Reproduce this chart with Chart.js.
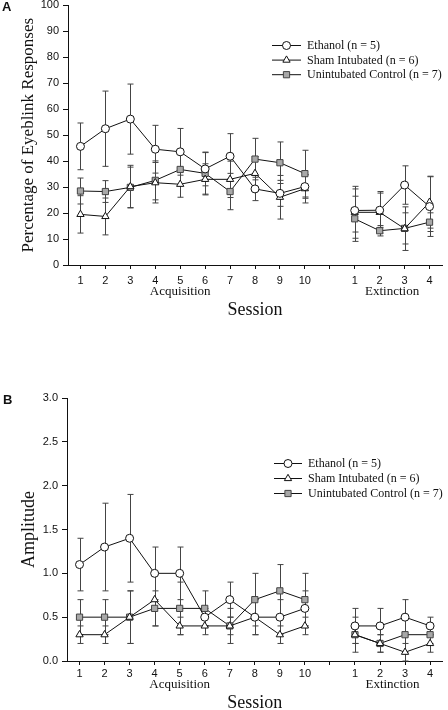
<!DOCTYPE html>
<html>
<head>
<meta charset="utf-8">
<title>Eyeblink Responses and Amplitude</title>
<script src="https://cdn.jsdelivr.net/npm/chart.js@4.4.0/dist/chart.umd.min.js"></script>
<style>
  html, body { margin: 0; padding: 0; background: #fff; overflow: hidden; }
  body { width: 448px; height: 710px; position: relative; }
  .panel { position: absolute; left: 0; width: 448px; }
  #panelA { top: 0; height: 340px; }
  #panelB { top: 355px; height: 370px; }
  .letter { position: absolute; font: bold 13px 'Liberation Sans', Arial, sans-serif; color: #111; }
</style>
</head>
<body>
<div class="panel" id="panelA"><canvas id="chartA"></canvas></div>
<div class="panel" id="panelB"><canvas id="chartB"></canvas></div>
<div class="letter" style="left:2px;top:-1px">A</div>
<div class="letter" style="left:3px;top:392px">B</div>
<script>
// Sessions: acquisition 1-10, then a gap, then extinction 1-4
const sessionPos = [1, 2, 3, 4, 5, 6, 7, 8, 9, 10, 12, 13, 14, 15];
const tickPos = [1, 2, 3, 4, 5, 6, 7, 8, 9, 10, 11, 12, 13, 14, 15];
const tickText = ['1', '2', '3', '4', '5', '6', '7', '8', '9', '10', '', '1', '2', '3', '4'];
const groupNames = ['Ethanol (n = 5)', 'Sham Intubated (n = 6)', 'Unintubated Control (n = 7)'];

// Panel A - percentage of eyeblink responses
const ethanolPct = [45.7, 52.5, 56.2, 44.6, 43.6, 37.0, 41.9, 29.3, 27.6, 30.2, 21.0, 21.1, 30.8, 22.5];
const ethanolPctErr = [9, 14.5, 13.5, 9.2, 9, 6.5, 8.7, 4.5, 5, 4.5, 8.3, 6.6, 7.4, 11.5];
const shamPct = [19.5, 18.7, 30.2, 31.7, 31.1, 33.0, 33.0, 35.3, 26.1, 29.4, 20.3, 20.3, 14.0, 24.2];
const shamPctErr = [7.2, 7.1, 8.2, 7.8, 5, 6, 7, 6.5, 8.4, 5.5, 10, 8, 8.4, 10];
const controlPct = [28.5, 28.3, 29.9, 32.6, 36.8, 35.3, 28.3, 40.8, 39.4, 35.2, 17.8, 13.2, 14.1, 16.5];
const controlPctErr = [5, 4.2, 7.8, 7.5, 6.2, 8, 7, 8, 8, 9, 8.7, 2, 6, 3.6];

// Panel B - amplitude
const ethanolAmp = [1.1, 1.3, 1.4, 1.0, 1.0, 0.5, 0.7, 0.5, 0.5, 0.6, 0.4, 0.4, 0.5, 0.4];
const ethanolAmpErr = [0.3, 0.5, 0.5, 0.3, 0.3, 0.1, 0.2, 0.2, 0.2, 0.2, 0.2, 0.2, 0.2, 0.1];
const shamAmp = [0.3, 0.3, 0.5, 0.7, 0.4, 0.4, 0.4, 0.5, 0.3, 0.4, 0.3, 0.2, 0.1, 0.2];
const shamAmpErr = [0.1, 0.1, 0.3, 0.3, 0.1, 0.1, 0.1, 0.2, 0.1, 0.1, 0.1, 0.1, 0.1, 0.1];
const controlAmp = [0.5, 0.5, 0.5, 0.6, 0.6, 0.6, 0.4, 0.7, 0.8, 0.7, 0.3, 0.2, 0.3, 0.3];
const controlAmpErr = [0.2, 0.2, 0.3, 0.2, 0.3, 0.2, 0.2, 0.3, 0.3, 0.3, 0.2, 0.1, 0.2, 0.1];

const serif = "'Liberation Serif', 'Times New Roman', serif";
const sans = "'Liberation Sans', Arial, sans-serif";
const ink = '#111';

// Function to pair session positions with values
function buildSeries(values) {
  return sessionPos.map((x, i) => ({ x: x, y: values[i] }));
}

// Function to make one dataset with the marker look of its group
function makeDataset(idx, values, errors) {
  const looks = [
    { pointStyle: 'circle', pointRadius: 4, pointBackgroundColor: '#fff', pointBorderColor: ink },
    { pointStyle: 'triangle', pointRadius: 4.2, pointBackgroundColor: '#fff', pointBorderColor: ink },
    { pointStyle: 'rect', pointRadius: 4.4, pointBackgroundColor: '#a8a8a8', pointBorderColor: '#444' }
  ];
  return Object.assign({
    label: groupNames[idx],
    data: buildSeries(values),
    errors: errors,
    borderColor: ink,
    borderWidth: 1,
    pointBorderWidth: 1,
    pointHoverRadius: 4,
    tension: 0,
    fill: false,
    // no line across the gap between acquisition and extinction
    segment: {
      borderColor: ctx => (ctx.p1.parsed.x - ctx.p0.parsed.x > 1 ? 'rgba(0,0,0,0)' : ink)
    }
  }, looks[idx]);
}

// Error bars drawn through the y scale
const errorBars = {
  id: 'errorBars',
  beforeDatasetsDraw(chart) {
    const ctx = chart.ctx;
    const yScale = chart.scales.y;
    ctx.save();
    ctx.strokeStyle = '#444';
    ctx.lineWidth = 1;
    chart.data.datasets.forEach((ds, i) => {
      const meta = chart.getDatasetMeta(i);
      ds.data.forEach((pt, j) => {
        const x = Math.round(meta.data[j].x) + 0.5;
        const top = yScale.getPixelForValue(pt.y + ds.errors[j]);
        const bot = yScale.getPixelForValue(Math.max(pt.y - ds.errors[j], yScale.min));
        ctx.beginPath();
        ctx.moveTo(x, top);
        ctx.lineTo(x, bot);
        ctx.moveTo(x - 3, top);
        ctx.lineTo(x + 3, top);
        ctx.moveTo(x - 3, bot);
        ctx.lineTo(x + 3, bot);
        ctx.stroke();
      });
    });
    ctx.restore();
  }
};

// Legend inside the plot, top right
const insideLegend = {
  id: 'insideLegend',
  afterDraw(chart, args, opts) {
    const ctx = chart.ctx;
    ctx.save();
    ctx.font = '12px ' + serif;
    ctx.textBaseline = 'middle';
    chart.data.datasets.forEach((ds, i) => {
      const y = opts.top + i * opts.rowGap;
      ctx.strokeStyle = ink;
      ctx.lineWidth = 1;
      ctx.beginPath();
      ctx.moveTo(opts.left, y + 0.5);
      ctx.lineTo(opts.left + opts.lineLen, y + 0.5);
      ctx.stroke();
      ctx.fillStyle = ds.pointBackgroundColor;
      ctx.strokeStyle = ds.pointBorderColor;
      Chart.helpers.drawPoint(ctx, { pointStyle: ds.pointStyle, radius: ds.pointRadius, borderWidth: 1, rotation: 0 },
        opts.left + opts.lineLen / 2, y + 0.5);
      ctx.fillStyle = ink;
      ctx.fillText(ds.label, opts.left + opts.lineLen + 6, y + 1);
    });
    ctx.restore();
  }
};

// Acquisition / Extinction under the session numbers
const phaseLabels = {
  id: 'phaseLabels',
  afterDraw(chart, args, opts) {
    const ctx = chart.ctx;
    const xScale = chart.scales.x;
    ctx.save();
    ctx.font = '13px ' + serif;
    ctx.fillStyle = ink;
    ctx.textAlign = 'center';
    ctx.textBaseline = 'middle';
    const y = chart.chartArea.bottom + opts.offset;
    ctx.fillText('Acquisition', xScale.getPixelForValue(5), y);
    ctx.fillText('Extinction', xScale.getPixelForValue(13.5), y);
    ctx.restore();
  }
};

// Function to build the chart options for one panel
function panelOptions(p) {
  return {
    responsive: true,
    maintainAspectRatio: false,
    animation: false,
    events: [],
    layout: { padding: { top: p.padTop, right: p.padRight, left: 0, bottom: 0 } },
    plugins: {
      legend: { display: false },
      tooltip: { enabled: false },
      insideLegend: p.legend,
      phaseLabels: { offset: p.phaseOffset }
    },
    scales: {
      x: {
        type: 'linear',
        min: 0.5,
        max: 15.5,
        afterBuildTicks: scale => { scale.ticks = tickPos.map(v => ({ value: v })); },
        afterFit: scale => {
          scale.height = p.xHeight;
          scale.paddingLeft = 0;
          scale.paddingRight = 0;
        },
        ticks: {
          autoSkip: false,
          maxRotation: 0,
          padding: p.xTickPad,
          color: ink,
          font: { family: sans, size: 11 },
          callback: (v, i) => tickText[i]
        },
        grid: { drawOnChartArea: false, drawTicks: true, tickLength: 4, color: ink },
        border: { display: true, color: ink, width: 1 },
        title: {
          display: true,
          text: 'Session',
          color: ink,
          font: { family: serif, size: 18 },
          padding: { top: 0, bottom: p.sessionPad }
        }
      },
      y: {
        min: 0,
        max: p.yMax,
        afterBuildTicks: scale => { scale.ticks = p.yTicks.map(v => ({ value: v })); },
        afterFit: scale => {
          scale.width = p.yWidth;
          scale.paddingTop = 0;
          scale.paddingBottom = 0;
        },
        ticks: {
          padding: 4,
          color: ink,
          font: { family: sans, size: 11 },
          callback: v => p.yFormat(v)
        },
        grid: { drawOnChartArea: false, drawTicks: true, tickLength: 5, color: ink },
        border: { display: true, color: ink, width: 1 },
        title: {
          display: true,
          text: p.yTitle,
          color: ink,
          font: { family: serif, size: p.yTitleSize },
          padding: { top: p.yTitlePad, bottom: 0 }
        }
      }
    }
  };
}

const pctTicks = [0, 10, 20, 30, 40, 50, 60, 70, 80, 90, 100];
const ampTicks = [0, 0.5, 1.0, 1.5, 2.0, 2.5, 3.0];

new Chart(document.getElementById('chartA'), {
  type: 'line',
  data: {
    datasets: [
      makeDataset(0, ethanolPct, ethanolPctErr),
      makeDataset(1, shamPct, shamPctErr),
      makeDataset(2, controlPct, controlPctErr)
    ]
  },
  options: panelOptions({
    padTop: 4, padRight: 6, xHeight: 75, yWidth: 68,
    yMax: 100, yTicks: pctTicks, yFormat: v => String(v),
    yTitle: 'Percentage of Eyeblink Responses', yTitleSize: 17, yTitlePad: 18,
    xTickPad: 5, sessionPad: 19, phaseOffset: 27,
    legend: { left: 272, top: 45, rowGap: 14.6, lineLen: 29 }
  }),
  plugins: [errorBars, insideLegend, phaseLabels]
});

new Chart(document.getElementById('chartB'), {
  type: 'line',
  data: {
    datasets: [
      makeDataset(0, ethanolAmp, ethanolAmpErr),
      makeDataset(1, shamAmp, shamAmpErr),
      makeDataset(2, controlAmp, controlAmpErr)
    ]
  },
  options: panelOptions({
    padTop: 43, padRight: 2, xHeight: 64, yWidth: 67,
    yMax: 3, yTicks: ampTicks, yFormat: v => v.toFixed(1),
    yTitle: 'Amplitude', yTitleSize: 18, yTitlePad: 18,
    xTickPad: 2, sessionPad: 11, phaseOffset: 24,
    legend: { left: 274, top: 108, rowGap: 15, lineLen: 28 }
  }),
  plugins: [errorBars, insideLegend, phaseLabels]
});
</script>
</body>
</html>
